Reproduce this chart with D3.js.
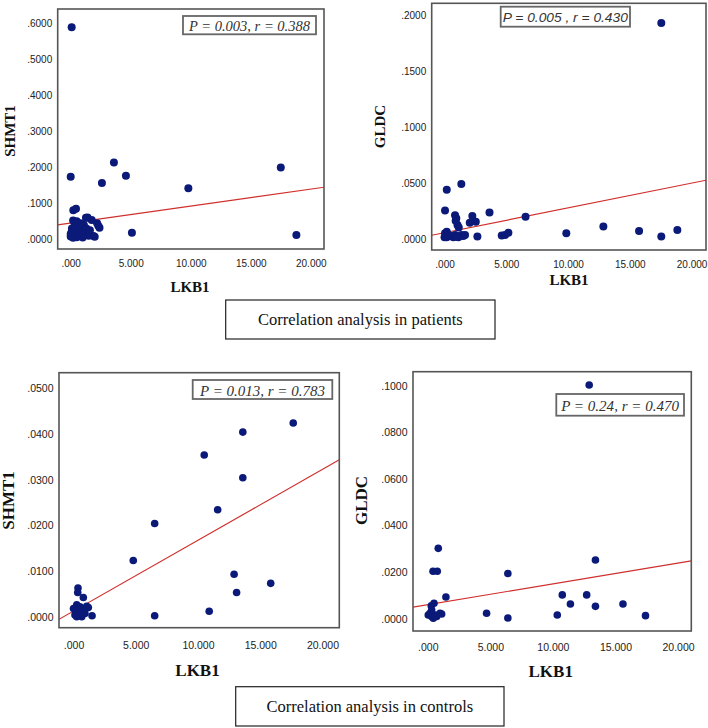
<!DOCTYPE html>
<html><head><meta charset="utf-8">
<script src="https://cdn.jsdelivr.net/npm/d3@7"></script>
<style>body{margin:0;background:#fff}svg{display:block}</style>
</head><body>
<svg id="c" width="708" height="728"></svg>
<script>
// ---- DATA (LKB1, marker) ----
const patientsSHMT1 = [
 [0.08,0.590],[0.0,0.174],[3.6,0.214],[4.6,0.177],[2.6,0.157],[9.8,0.142],[17.5,0.200],[18.8,0.012],[5.1,0.018],[0.22,0.081],[0.44,0.085],
 [0.2,0.052],[0.5,0.050],[1.27,0.060],[1.4,0.061],[1.75,0.054],[2.2,0.045],[2.3,0.038],[2.4,0.032],[1.9,0.009],[1.1,0.040],[0.08,0.021],
 [0.0,0.008],[0.3,0.012],[0.6,0.018],[0.9,0.028],[1.2,0.022],[0.5,0.006],[1.5,0.010],[0.7,0.035],[0.1,0.030],[0.4,0.042],[0.9,0.012],
 [1.3,0.030],[0.2,0.004],[0.6,0.025],[1.0,0.005],[0.3,0.035],[0.8,0.045],[1.6,0.025],[0.0,0.015],[2.0,0.007]
];
const patientsGLDC = [
 [17.55,0.193],[0.18,0.0443],[1.36,0.0494],[0.04,0.0256],[0.85,0.0214],[0.95,0.0188],[0.9,0.0166],[1.05,0.0128],[1.15,0.0104],
 [2.25,0.0208],[2.04,0.0148],[2.53,0.0157],[3.64,0.0238],[6.56,0.0202],[2.66,0.0024],[4.63,0.0033],[4.9,0.0039],[5.17,0.0059],
 [9.86,0.0054],[12.86,0.0113],[15.75,0.0074],[17.55,0.0024],[18.85,0.0083],
 [0.04,0.0054],[0.18,0.0018],[0.45,0.003],[0.71,0.0018],[1.12,0.0018],[1.26,0.003],[1.52,0.003],[0.18,0.0068],[0.31,0.0038],
 [0.85,0.0038],[0.0,0.0018],[1.39,0.0038],[1.66,0.0038],[1.0,0.0022]
];
const controlsSHMT1 = [
 [17.65,0.0424],[13.6,0.0404],[10.5,0.0354],[13.6,0.0304],[11.58,0.0234],[6.52,0.0204],[4.8,0.0123],[12.9,0.0093],[15.84,0.0073],
 [13.1,0.0053],[10.9,0.0012],[6.52,0.0002],[1.49,0.0002],[0.36,0.0063],[0.34,0.0053],[0.79,0.0042],
 [0.0,0.0018],[0.26,0.0026],[0.52,0.0022],[0.79,0.0015],[1.06,0.0023],[0.39,0.0007],[0.66,0.0],[0.12,0.0004],[0.92,0.0007],
 [1.19,0.002],[0.47,0.0015],[0.26,0.0]
];
const controlsGLDC = [
 [12.9,0.1004],[0.84,0.0302],[0.42,0.0204],[0.76,0.0204],[6.4,0.0194],[13.4,0.0252],[1.45,0.0093],[10.75,0.0102],[12.7,0.0102],
 [11.4,0.0063],[13.4,0.0053],[15.6,0.0063],[17.4,0.0013],[10.35,0.0016],[4.7,0.0023],[6.4,0.0003],[0.5,0.0066],[0.28,0.0055],
 [0.04,0.0016],[0.31,0.0009],[0.58,0.0016],[0.98,0.0023],[0.18,0.0023],[0.44,0.0002],[0.71,0.0009],[1.11,0.002],[0.31,0.0037]
];
// fit lines [intercept, slope]
const fitPatSHMT1 = [0.0451, 0.00473];
const fitPatGLDC = [0.0059, 0.00221];
const fitConSHMT1 = [0.00124, 0.00155];
const fitConGLDC = [0.006, 0.000895];
// tick values
const xTicks = [0,5,10,15,20];
const yTicksPatSHMT1 = [0,0.1,0.2,0.3,0.4,0.5,0.6];
const yTicksPatGLDC = [0,0.05,0.1,0.15,0.2];
const yTicksConSHMT1 = [0,0.01,0.02,0.03,0.04,0.05];
const yTicksConGLDC = [0,0.02,0.04,0.06,0.08,0.1];
const stats = ["P = 0.003, r = 0.388","P = 0.005 , r = 0.430","P = 0.013, r = 0.783","P = 0.24, r = 0.470"];
const xLabel = "LKB1";
const yLabels = ["SHMT1","GLDC","SHMT1","GLDC"];
const captions = ["Correlation analysis in patients","Correlation analysis in controls"];

// ---- LAYOUT ----
const panels = [
 {data:patientsSHMT1, fit:fitPatSHMT1, yt:yTicksPatSHMT1, x0:57.7,x1:324,y0:9,y1:249, xd:[-1.083,21.1], yd:[-0.027,0.641],
  box:[183,16,316,34.3], boxFont:"'Liberation Serif',serif", boxFs:15, txtW:121, yl:[10,131], xl:[190,287], lfs:15, tfs:10, r:4, tly:10.5},
 {data:patientsGLDC, fit:fitPatGLDC, yt:yTicksPatGLDC, x0:431.7,x1:706,y0:3.3,y1:250, xd:[-1.04,21.17], yd:[-0.0096,0.2107],
  box:[500.7,6.7,630,26.7], boxFont:"'Liberation Sans',sans-serif", boxFs:13.5, txtW:125, yl:[380,126.5], xl:[569,280], lfs:15, tfs:10, r:4, tly:10.5},
 {data:controlsSHMT1, fit:fitConSHMT1, yt:yTicksConSHMT1, x0:59,x1:339.3,y0:372.7,y1:627.7, xd:[-1.165,21.35], yd:[-0.0024,0.0534],
  box:[192.7,380,332.3,399], boxFont:"'Liberation Serif',serif", boxFs:15, txtW:125, yl:[8,500.5], xl:[197.5,670], lfs:17, tfs:10.5, r:3.8, tly:13.8},
 {data:controlsGLDC, fit:fitConGLDC, yt:yTicksConGLDC, x0:413,x1:691.3,y0:371.7,y1:631, xd:[-1.18,21.06], yd:[-0.0053,0.1061],
  box:[556.3,394,684,415.7], boxFont:"'Liberation Serif',serif", boxFs:15, txtW:118, yl:[361,500.5], xl:[550.7,671.7], lfs:17, tfs:10.5, r:3.8, tly:12.5}
];
const capBoxes = [[225.7,300,495,339],[235.7,686.7,504,726]];

const svg = d3.select("#c");
const fmtX = v => v===0 ? ".000" : d3.format(".3f")(v);
const fmtY = v => d3.format(".4f")(v).replace(/^0/,"");

panels.forEach((p,i)=>{
  const x = d3.scaleLinear().domain(p.xd).range([p.x0,p.x1]);
  const y = d3.scaleLinear().domain(p.yd).range([p.y1,p.y0]);
  const g = svg.append("g");
  // axes (labels only)
  const ax = d3.axisBottom(x).tickValues(xTicks).tickFormat(fmtX).tickSize(0).tickPadding(p.tly);
  const axg = g.append("g").attr("transform",`translate(0,${p.y1})`).call(ax);
  const ay = d3.axisLeft(y).tickValues(p.yt).tickFormat(fmtY).tickSize(0).tickPadding(5.5);
  const ayg = g.append("g").attr("transform",`translate(${p.x0},0)`).call(ay);
  [axg,ayg].forEach(a=>{
    a.select(".domain").remove();
    a.selectAll("text").attr("font-family","'Liberation Sans',Arial,sans-serif").attr("font-size",p.tfs).attr("fill","#222");
  });
  // clip
  const cid = "clip"+i;
  svg.append("clipPath").attr("id",cid).append("rect").attr("x",p.x0).attr("y",p.y0).attr("width",p.x1-p.x0).attr("height",p.y1-p.y0);
  // fit line
  const xs = p.xd;
  g.append("line").attr("clip-path",`url(#${cid})`)
    .attr("x1",x(xs[0])).attr("y1",y(p.fit[0]+p.fit[1]*xs[0]))
    .attr("x2",x(xs[1])).attr("y2",y(p.fit[0]+p.fit[1]*xs[1]))
    .attr("stroke","#d0302c").attr("stroke-width",1.2);
  // points
  g.append("g").attr("clip-path",`url(#${cid})`).selectAll("circle").data(p.data).join("circle")
    .attr("cx",d=>x(d[0])).attr("cy",d=>y(d[1])).attr("r",p.r).attr("fill","#0b1a78");
  // frame
  g.append("rect").attr("x",p.x0).attr("y",p.y0).attr("width",p.x1-p.x0).attr("height",p.y1-p.y0)
    .attr("fill","none").attr("stroke","#555").attr("stroke-width",1.6);
  // stat box
  const b = p.box;
  g.append("rect").attr("x",b[0]).attr("y",b[1]).attr("width",b[2]-b[0]).attr("height",b[3]-b[1])
    .attr("fill","#fff").attr("stroke","#666").attr("stroke-width",1.8);
  g.append("text").attr("x",(b[0]+b[2])/2).attr("y",(b[1]+b[3])/2+1).attr("text-anchor","middle").attr("dominant-baseline","central")
    .attr("font-family",p.boxFont).attr("font-style","italic").attr("font-size",p.boxFs).attr("fill","#333")
    .attr("textLength",p.txtW).attr("lengthAdjust","spacingAndGlyphs").text(stats[i]);
  // axis titles
  g.append("text").attr("transform",`translate(${p.yl[0]},${p.yl[1]}) rotate(-90)`).attr("text-anchor","middle").attr("dominant-baseline","central")
    .attr("font-family","'Liberation Serif',serif").attr("font-weight","bold").attr("font-size",p.lfs).attr("fill","#111").text(yLabels[i]);
  g.append("text").attr("x",p.xl[0]).attr("y",p.xl[1]).attr("text-anchor","middle").attr("dominant-baseline","central")
    .attr("font-family","'Liberation Serif',serif").attr("font-weight","bold").attr("font-size",p.lfs).attr("fill","#111").text(xLabel);
});

capBoxes.forEach((b,i)=>{
  svg.append("rect").attr("x",b[0]).attr("y",b[1]).attr("width",b[2]-b[0]).attr("height",b[3]-b[1])
    .attr("fill","#fff").attr("stroke","#222").attr("stroke-width",1.2);
  svg.append("text").attr("x",(b[0]+b[2])/2).attr("y",(b[1]+b[3])/2).attr("text-anchor","middle").attr("dominant-baseline","central")
    .attr("font-family","'Liberation Serif',serif").attr("font-size",16.5).attr("fill","#111").text(captions[i]);
});
</script>
</body></html>
